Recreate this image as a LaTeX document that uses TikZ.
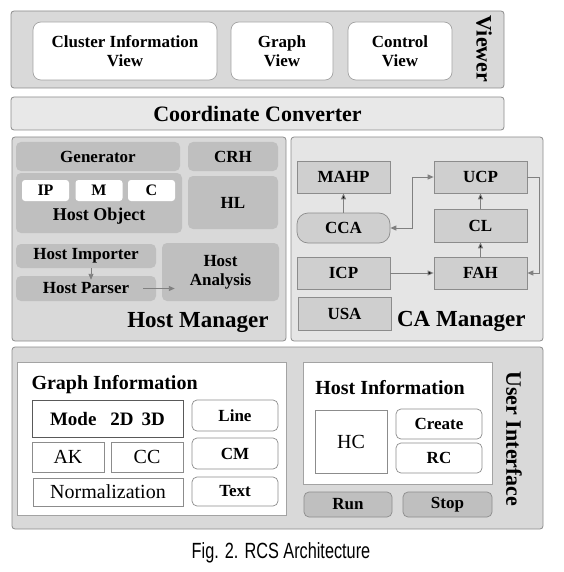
\documentclass[tikz,border=0pt]{standalone}
\usepackage{fontspec}
\setmainfont{Liberation Serif}
\newfontfamily\capfont[FakeStretch=0.74]{Liberation Sans}
\usepackage{tikz}
\usetikzlibrary{arrows.meta}

\definecolor{panel}{HTML}{D9D9D9}
\definecolor{panellight}{HTML}{E5E5E5}
\definecolor{convfill}{HTML}{E8E8E8}
\definecolor{inner}{HTML}{BFBFBF}
\definecolor{cabox}{HTML}{CFCFCF}
\definecolor{edgegray}{HTML}{8C8C8C}

\newcommand{\fsz}[1]{\fontsize{#1}{#1}\selectfont}

\tikzset{
  panelbox/.style={draw=edgegray, fill=panel, rounded corners=3pt, inner sep=0pt, line width=0.8pt},
  viewbox/.style={draw=edgegray!80, fill=white, rounded corners=8pt, inner sep=0pt, align=center, font=\bfseries\fsz{17}, line width=0.7pt},
  hmbox/.style={fill=inner, rounded corners=5pt, inner sep=0pt, align=center, font=\bfseries\fsz{17}},
  cabx/.style={draw=edgegray, fill=cabox, inner sep=0pt, minimum width=93pt, font=\bfseries\fsz{17}, line width=0.7pt},
  whitebox/.style={draw=edgegray, fill=white, inner sep=0pt, line width=0.7pt},
  btn/.style={draw=edgegray, fill=white, rounded corners=5pt, inner sep=0pt, minimum width=86pt, font=\bfseries\fsz{17}, line width=0.7pt},
  flow/.style={draw=gray, line width=0.9pt, -{Triangle[length=6pt,width=5pt]}},
}

\begin{document}
\begin{tikzpicture}[x=1pt,y=-1pt]
\useasboundingbox (0,0) rectangle (563,572);

% Viewer
\node[panelbox, minimum width=493pt, minimum height=77pt] (viewer) at (257.5,49.5) {};
\node[font=\bfseries\fsz{22}, rotate=-90] (viewerlbl) at (484,49) {Viewer};
\node[viewbox, minimum width=184pt, minimum height=58pt] (clview) at (125,51) {Cluster Information\\[2pt]View};
\node[viewbox, minimum width=102pt, minimum height=58pt] (grview) at (282,51) {Graph\\[2pt]View};
\node[viewbox, minimum width=104pt, minimum height=58pt] (ctview) at (400,51) {Control\\[2pt]View};

% Coordinate Converter
\node[panelbox, fill=convfill, minimum width=493pt, minimum height=33pt, font=\bfseries\fsz{22}] (conv) at (257.5,113.5) {Coordinate Converter};

% Host Manager
\node[panelbox, minimum width=274pt, minimum height=204pt] (hostmgr) at (149,239) {};
\node[hmbox, minimum width=164pt, minimum height=29pt] (gen) at (98,156.5) {Generator};
\node[hmbox, minimum width=90pt, minimum height=29pt] (crh) at (233,156.5) {CRH};
\node[hmbox, minimum width=166pt, minimum height=60pt] (hobj) at (99,203) {};
\node[font=\bfseries\fsz{18}] (hobjlbl) at (99,216) {Host Object};
\begin{scope}[every node/.style={fill=white, rounded corners=3pt, inner sep=0pt, minimum width=47pt, minimum height=21pt, font=\bfseries\fsz{16}}]
    \node (ip) at (45.5,190.5) {IP};
    \node (m) at (99,190.5) {M};
    \node (c) at (151.5,190.5) {C};
\end{scope}
\node[hmbox, minimum width=90pt, minimum height=53pt] (hl) at (233,202.5) {HL};
\node[hmbox, minimum width=140pt, minimum height=24pt] (himp) at (86,256) {Host Importer};
\node[hmbox, minimum width=140pt, minimum height=25pt] (hpar) at (86,288.5) {Host Parser};
\node[hmbox, minimum width=117pt, minimum height=58pt] (hana) at (220.5,272) {Host\\[2pt]Analysis};
\node[anchor=east, font=\bfseries\fsz{23}] (hmlbl) at (272,323) {Host Manager};

\coordinate (anain) at ([xshift=13pt]hana.west);
\draw[flow] ([xshift=5pt]himp.south) -- ([xshift=5pt,yshift=-4pt]hpar.north);
\draw[flow] ([xshift=-13pt]hpar.east) -- (hpar.east -| anain);

% CA Manager
\node[panelbox, fill=panellight, minimum width=252pt, minimum height=204pt] (camgr) at (417,239) {};
\node[cabx, minimum height=32pt] (mahp) at (343.5,177) {MAHP};
\node[cabx, minimum height=32pt] (ucp) at (480.5,177) {UCP};
\node[cabx, rounded corners=11pt, minimum height=30pt] (cca) at (343.5,228) {CCA};
\node[cabx, minimum height=33pt] (cl) at (480.5,225.5) {CL};
\node[cabx, minimum height=32pt] (icp) at (343.5,273) {ICP};
\node[cabx, minimum height=32pt] (fah) at (480.5,273) {FAH};
\node[cabx, minimum height=33pt] (usa) at (344.5,313.5) {USA};
\node[anchor=east, font=\bfseries\fsz{23}] (calbl) at (529,321) {CA Manager};

\path[flow] (cca) edge (mahp);
\path[flow] (cl) edge (ucp);
\path[flow] (fah) edge (cl);
\path[flow] (icp) edge (fah);
\draw[flow, {Triangle[length=6pt,width=5pt]}-{Triangle[length=6pt,width=5pt]}] (cca.east) -- ++(22,0) |- (ucp.west);
\draw[flow] (ucp.east) -- ++(12,0) |- (fah.east);

% User Interface
\node[panelbox, minimum width=531pt, minimum height=182pt] (ui) at (277.5,438) {};
\node[font=\bfseries\fsz{22}, rotate=-90] (uilbl) at (514,439) {User Interface};

\node[whitebox, draw=edgegray!80, minimum width=269pt, minimum height=153pt] (graphinfo) at (151.5,438.5) {};
\node[anchor=west, font=\bfseries\fsz{20}] (gilbl) at (28,385) {Graph Information};
\node[whitebox, draw=black!65, minimum width=151pt, minimum height=37pt, font=\bfseries\fsz{19}] (mode) at (107.5,418.5) {Mode\hspace{14pt}2D\hspace{8pt}3D};
\node[whitebox, minimum width=72pt, minimum height=30pt, font=\fsz{20}] (ak) at (68,457) {AK};
\node[whitebox, minimum width=72pt, minimum height=30pt, font=\fsz{20}] (cc) at (147,457) {CC};
\node[whitebox, minimum width=150pt, minimum height=28pt, font=\fsz{20}] (norm) at (108,492) {Normalization};
\node[btn, minimum height=31pt] (line) at (235,415.5) {Line};
\node[btn, minimum height=31pt] (cm) at (235,453.5) {CM};
\node[btn, minimum height=29pt] (text) at (235,491.5) {Text};

\node[whitebox, draw=edgegray!80, minimum width=189pt, minimum height=122pt] (hostinfo) at (397.5,423) {};
\node[font=\bfseries\fsz{20}] (hilbl) at (390,388) {Host Information};
\node[whitebox, minimum width=72pt, minimum height=63pt, font=\fsz{20}] (hc) at (351,441.5) {HC};
\node[btn, minimum height=30pt] (create) at (439,424) {Create};
\node[btn, minimum height=30pt] (rc) at (439,458) {RC};
\node[btn, fill=inner, minimum width=88pt, minimum height=25pt] (run) at (348,504.5) {Run};
\node[btn, fill=inner, minimum width=89pt, minimum height=25pt] (stop) at (447.5,504.5) {Stop};

% caption
\node[font=\capfont\fsz{22}] (caption) at (281,553) {Fig. 2. RCS Architecture};
\end{tikzpicture}
\end{document}
